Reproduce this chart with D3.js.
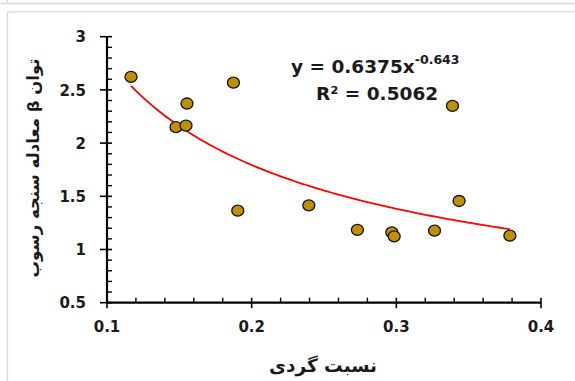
<!DOCTYPE html>
<html>
<head>
<meta charset="utf-8">
<script src="https://cdn.jsdelivr.net/npm/d3@7"></script>
<style>
  html, body { margin: 0; padding: 0; background: #fff; }
  svg { display: block; }
</style>
</head>
<body>
<svg id="chart" width="575" height="381"></svg>
<script>
// Roundness ratio vs. beta exponent of the sediment rating equation
const roundness = [0.1166, 0.1477, 0.1546, 0.1553, 0.1874, 0.1904, 0.2395, 0.2731, 0.2969, 0.2985, 0.3264, 0.3388, 0.3434, 0.3785];
const betaExp   = [2.622, 2.150, 2.165, 2.372, 2.568, 1.365, 1.415, 1.184, 1.161, 1.124, 1.177, 2.350, 1.456, 1.130];

// Power trend line y = a * x^b
const trendA = 0.6375;
const trendB = -0.643;
const rSquared = 0.5062;

const xTicks = [0.1, 0.2, 0.3, 0.4];
const yTicks = [0.5, 1, 1.5, 2, 2.5, 3];
const xTitle = "نسبت گردی";
const yTitle = "توان β معادله سنجه رسوب";

const svg = d3.select("#chart");
const font = "'DejaVu Sans', Verdana, sans-serif";

// panel frames
svg.append("line").attr("x1", 0).attr("x2", 575).attr("y1", 3.5).attr("y2", 3.5)
  .attr("stroke", "#d9d9d9").attr("stroke-width", 1.3);
svg.append("line").attr("x1", 7.5).attr("x2", 7.5).attr("y1", 0).attr("y2", 3.5)
  .attr("stroke", "#d9d9d9").attr("stroke-width", 1.3);
svg.append("path").attr("d", "M7.5,381 V11.8 H575")
  .attr("fill", "none").attr("stroke", "#d9d9d9").attr("stroke-width", 1.3);

const x = d3.scaleLinear().domain([0.1, 0.4]).range([107, 541]);
const y = d3.scaleLinear().domain([0.5, 3]).range([302.7, 36.7]);

const axisColor = "#000";

// minor ticks (inside)
const xMinor = d3.range(0.12, 0.4, 0.02).filter(v => Math.abs(v * 10 - Math.round(v * 10)) > 1e-6);
const yMinor = d3.range(0.6, 3, 0.1).filter(v => Math.abs(v * 2 - Math.round(v * 2)) > 1e-6);

const gx = svg.append("g");
gx.append("line").attr("x1", x(0.1)).attr("x2", x(0.4)).attr("y1", y(0.5)).attr("y2", y(0.5))
  .attr("stroke", axisColor).attr("stroke-width", 2.2);
gx.selectAll(".minor").data(xMinor).join("line")
  .attr("x1", d => x(d)).attr("x2", d => x(d))
  .attr("y1", y(0.5)).attr("y2", y(0.5) - 5)
  .attr("stroke", axisColor).attr("stroke-width", 1.4);
gx.selectAll(".major").data(xTicks).join("line")
  .attr("x1", d => x(d)).attr("x2", d => x(d))
  .attr("y1", y(0.5) - 5).attr("y2", y(0.5) + 5.5)
  .attr("stroke", axisColor).attr("stroke-width", 1.6);
gx.selectAll("text").data(xTicks).join("text")
  .attr("x", d => x(d)).attr("y", 332)
  .attr("text-anchor", "middle")
  .attr("font-family", font).attr("font-weight", "bold").attr("font-size", 15)
  .attr("fill", "#1a1a1a")
  .text(d => d3.format(".1f")(d));

const gy = svg.append("g");
gy.append("line").attr("x1", x(0.1)).attr("x2", x(0.1)).attr("y1", y(0.5)).attr("y2", y(3))
  .attr("stroke", axisColor).attr("stroke-width", 2.2);
gy.selectAll(".minor").data(yMinor).join("line")
  .attr("x1", x(0.1)).attr("x2", x(0.1) + 5)
  .attr("y1", d => y(d)).attr("y2", d => y(d))
  .attr("stroke", axisColor).attr("stroke-width", 1.4);
gy.selectAll(".major").data(yTicks).join("line")
  .attr("x1", x(0.1) - 7).attr("x2", x(0.1) + 5)
  .attr("y1", d => y(d)).attr("y2", d => y(d))
  .attr("stroke", axisColor).attr("stroke-width", 1.6);
gy.selectAll("text").data(yTicks).join("text")
  .attr("x", 86).attr("y", d => y(d) + 5.6)
  .attr("text-anchor", "end")
  .attr("font-family", font).attr("font-weight", "bold").attr("font-size", 15)
  .attr("fill", "#1a1a1a")
  .text(d => d);

// axis titles
svg.append("text")
  .attr("x", 323).attr("y", 372)
  .attr("text-anchor", "middle").attr("direction", "rtl")
  .attr("font-family", font).attr("font-weight", "bold").attr("font-size", 18.5)
  .attr("fill", "#1a1a1a")
  .text(xTitle);
svg.append("text")
  .attr("transform", "translate(39,168) rotate(-90)")
  .attr("text-anchor", "middle").attr("direction", "rtl")
  .attr("font-family", font).attr("font-weight", "bold").attr("font-size", 16.5)
  .attr("fill", "#1a1a1a")
  .text(yTitle);

// trend line
const xMin = d3.min(roundness), xMax = d3.max(roundness);
const trendPts = d3.range(0, 101).map(i => {
  const xv = xMin + (xMax - xMin) * i / 100;
  return [xv, trendA * Math.pow(xv, trendB)];
});
svg.append("path")
  .datum(trendPts)
  .attr("d", d3.line().x(d => x(d[0])).y(d => y(d[1])))
  .attr("fill", "none").attr("stroke", "#ff0000").attr("stroke-width", 1.8);

// data points
const pts = roundness.map((v, i) => ({ x: v, y: betaExp[i] }));
svg.selectAll(".pt").data(pts).join("ellipse")
  .attr("cx", d => x(d.x)).attr("cy", d => y(d.y))
  .attr("rx", 6).attr("ry", 5.5)
  .attr("fill", "#bf9000").attr("stroke", "#111").attr("stroke-width", 1.3);

// equation label
const eq = svg.append("text")
  .attr("x", 291).attr("y", 73)
  .attr("font-family", font).attr("font-weight", "bold").attr("font-size", 18.5)
  .attr("fill", "#1a1a1a");
eq.append("tspan").text("y = " + trendA + "x");
eq.append("tspan").attr("dy", -9).attr("font-size", 12.5).text(String(trendB));

svg.append("text")
  .attr("x", 316).attr("y", 100)
  .attr("font-family", font).attr("font-weight", "bold").attr("font-size", 18.5)
  .attr("fill", "#1a1a1a")
  .text("R² = " + rSquared);
</script>
</body>
</html>
